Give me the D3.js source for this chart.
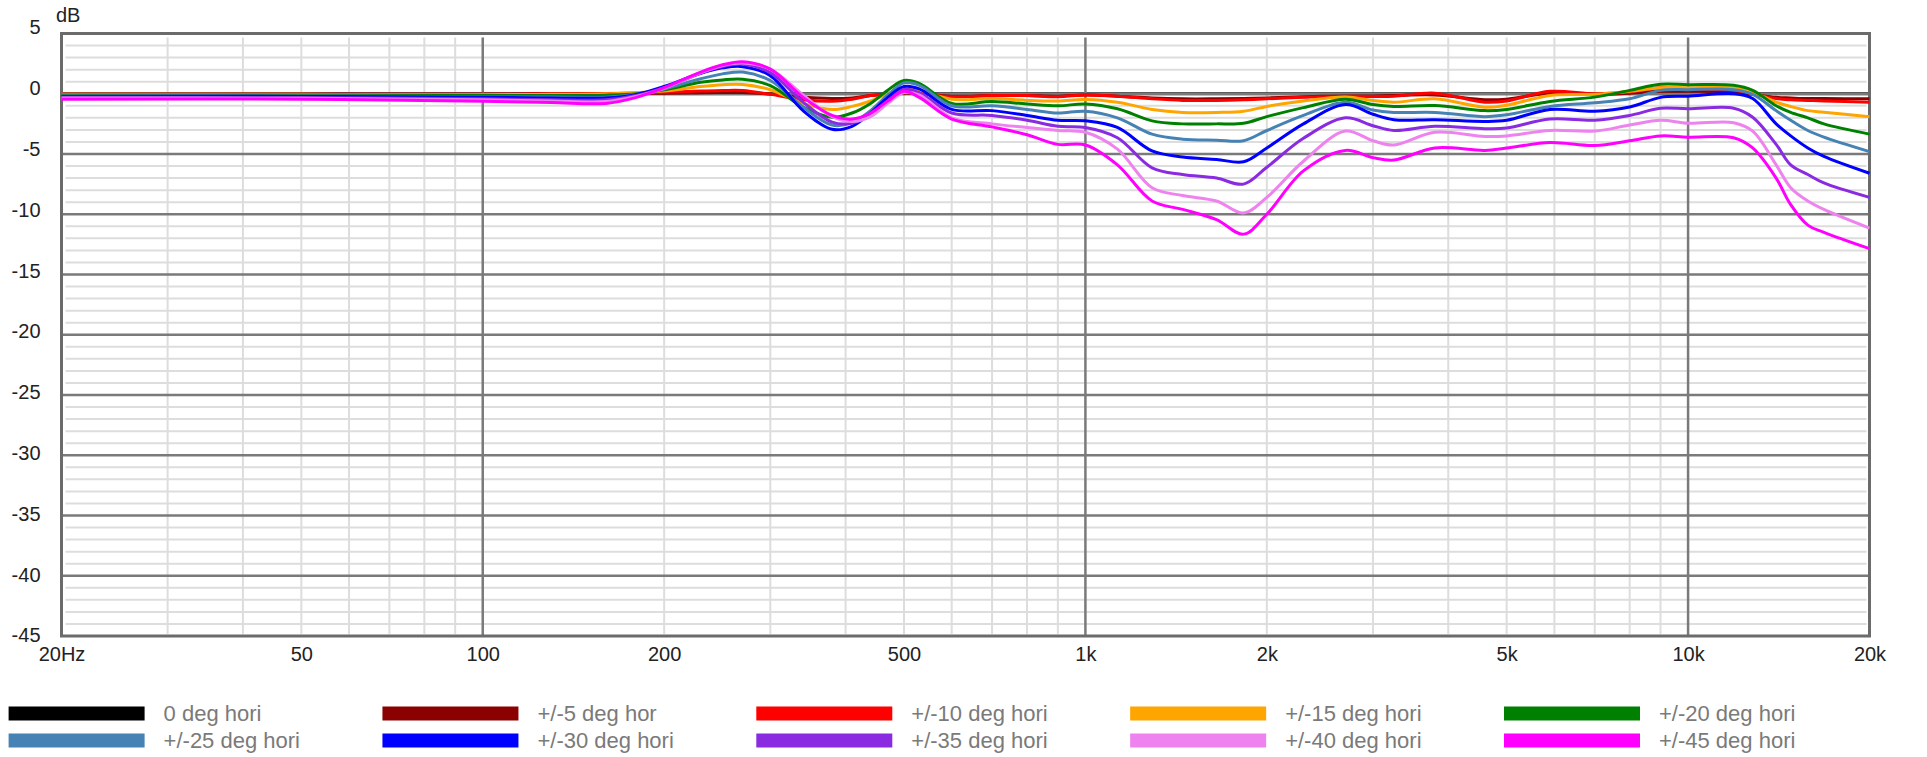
<!DOCTYPE html>
<html>
<head>
<meta charset="utf-8">
<script src="https://cdn.jsdelivr.net/npm/d3@7"></script>
<style>
  html, body { margin: 0; padding: 0; background: #fff; }
  svg { display: block; font-family: "Liberation Sans", Arial, Helvetica, sans-serif; }
</style>
</head>
<body>
<svg id="chart" width="1927" height="757"></svg>
<script>
// Frequency points (Hz) at which each off-axis response is sampled
const freqs = [20, 50, 100, 130, 160, 180, 200, 230, 250, 270, 300, 340, 380, 410, 440, 470, 500, 530, 600, 700,
  800, 900, 1000, 1130, 1290, 1450, 1650, 1830, 2000, 2300, 2700, 3000, 3250, 3800, 4600, 5000, 5900, 7000, 8000, 9000,
  10000, 11900, 12800, 14000, 14800, 15800, 16800, 20000];

// Horizontal off-axis responses, relative level in dB
const deg0 = [0, 0, 0, 0, 0, 0, 0, 0, 0, 0, 0, 0, 0, 0, 0, 0, 0, 0, 0, 0,
  0, 0, 0, 0, 0, 0, 0, 0, 0, 0, 0, 0, 0, 0, 0, 0, 0, 0, 0, 0,
  0, 0, 0, 0, 0, 0, 0, 0];
const deg5 = [-0.05, -0.05, -0.05, -0.02, 0, 0.02, 0.05, 0.08, 0.1, 0.1, -0.02, -0.3, -0.4, -0.35, -0.15, -0.05, 0.05, 0.02, -0.2, -0.15,
  -0.15, -0.2, -0.1, -0.2, -0.35, -0.42, -0.42, -0.4, -0.35, -0.25, -0.18, -0.18, -0.15, -0.1, -0.5, -0.45, 0.05, -0.05, 0.05, 0.2,
  0.2, 0.15, -0.05, -0.3, -0.35, -0.4, -0.4, -0.42];
const deg10 = [-0.05, -0.05, -0.05, 0, 0.02, 0.05, 0.12, 0.22, 0.27, 0.27, -0.05, -0.5, -0.62, -0.45, -0.15, 0, 0.1, 0.05, -0.25, -0.15,
  -0.15, -0.25, -0.1, -0.2, -0.42, -0.55, -0.55, -0.5, -0.42, -0.3, -0.22, -0.22, -0.2, 0.05, -0.7, -0.6, 0.2, 0, 0.14, 0.5,
  0.4, 0.3, 0, -0.4, -0.5, -0.55, -0.6, -0.7];
const deg15 = [-0.05, -0.05, -0.08, -0.05, 0, 0.1, 0.22, 0.6, 0.75, 0.77, 0.33, -0.8, -1.31, -1.05, -0.6, 0, 0.45, 0.3, -0.45, -0.4,
  -0.55, -0.6, -0.47, -0.7, -1.3, -1.55, -1.55, -1.45, -1.05, -0.6, -0.28, -0.56, -0.7, -0.42, -1.12, -0.95, -0.14, -0.05, 0.2, 0.5,
  0.5, 0.5, 0.14, -0.7, -1.06, -1.4, -1.54, -1.9];
const deg20 = [-0.1, -0.1, -0.15, -0.15, -0.12, 0, 0.33, 0.95, 1.15, 1.2, 0.68, -1.1, -1.95, -1.6, -0.8, 0.3, 1.1, 0.85, -0.8, -0.65,
  -0.85, -1.0, -0.85, -1.25, -2.25, -2.5, -2.5, -2.45, -1.9, -1.15, -0.45, -0.9, -1.05, -0.98, -1.4, -1.3, -0.64, -0.28, 0.28, 0.78,
  0.75, 0.7, 0.28, -1.0, -1.55, -2.0, -2.5, -3.35];
const deg25 = [-0.18, -0.18, -0.25, -0.28, -0.28, -0.05, 0.4, 1.25, 1.65, 1.8, 1.1, -1.1, -2.6, -2.4, -1.4, -0.1, 0.9, 0.7, -1.0, -1.0,
  -1.3, -1.6, -1.45, -2.0, -3.35, -3.77, -3.85, -3.9, -3.05, -1.8, -0.7, -1.35, -1.55, -1.55, -1.9, -1.75, -1.05, -0.75, -0.42, 0.28,
  0.34, 0.34, -0.05, -1.4, -2.2, -3.05, -3.6, -4.8];
const deg30 = [-0.22, -0.22, -0.3, -0.35, -0.35, -0.05, 0.6, 1.7, 2.15, 2.25, 1.5, -1.4, -2.95, -2.7, -1.6, -0.3, 0.6, 0.4, -1.3, -1.4,
  -1.8, -2.2, -2.25, -2.8, -4.75, -5.25, -5.45, -5.65, -4.5, -2.5, -0.9, -1.7, -2.15, -2.15, -2.3, -2.2, -1.3, -1.45, -1.1, -0.3,
  -0.2, 0, -0.4, -2.5, -3.5, -4.5, -5.2, -6.6];
const deg35 = [-0.3, -0.32, -0.42, -0.5, -0.5, -0.15, 0.5, 1.7, 2.25, 2.45, 1.75, -0.7, -2.35, -2.45, -1.75, -0.6, 0.35, 0.1, -1.6, -1.8,
  -2.2, -2.7, -2.8, -3.65, -6.15, -6.7, -7.0, -7.5, -6.1, -3.7, -2.0, -2.65, -3.05, -2.7, -2.9, -2.85, -2.1, -2.2, -1.8, -1.2,
  -1.25, -1.2, -1.95, -4.2, -5.9, -6.7, -7.4, -8.6];
const deg40 = [-0.35, -0.38, -0.5, -0.6, -0.65, -0.2, 0.45, 1.75, 2.35, 2.55, 2.05, -0.1, -1.9, -2.3, -1.9, -0.8, 0.1, -0.1, -2.0, -2.5,
  -2.8, -3.05, -3.2, -4.6, -7.8, -8.45, -8.9, -9.9, -8.6, -5.6, -3.1, -3.9, -4.25, -3.2, -3.55, -3.5, -3.05, -3.1, -2.6, -2.2,
  -2.45, -2.4, -3.1, -5.9, -7.8, -8.9, -9.6, -11.15];
const deg45 = [-0.45, -0.45, -0.62, -0.72, -0.8, -0.3, 0.5, 1.8, 2.4, 2.65, 2.05, -0.3, -1.8, -2.1, -1.6, -0.6, 0.2, -0.3, -2.1, -2.75,
  -3.4, -4.2, -4.25, -5.9, -8.9, -9.6, -10.45, -11.65, -10.0, -6.4, -4.7, -5.3, -5.5, -4.5, -4.7, -4.5, -4.05, -4.3, -3.9, -3.5,
  -3.6, -3.65, -4.5, -7.0, -9.2, -10.9, -11.5, -12.85];

const seriesLabels = ["0 deg hori", "+/-5 deg hor", "+/-10 deg hori", "+/-15 deg hori", "+/-20 deg hori",
  "+/-25 deg hori", "+/-30 deg hori", "+/-35 deg hori", "+/-40 deg hori", "+/-45 deg hori"];
const seriesColors = ["black", "darkred", "red", "orange", "green",
  "steelblue", "blue", "blueviolet", "violet", "magenta"];
const seriesValues = [deg0, deg5, deg10, deg15, deg20, deg25, deg30, deg35, deg40, deg45];

// Axis ticks
const xTickValues = [20, 50, 100, 200, 500, 1000, 2000, 5000, 10000, 20000];
const xTickLabels = ["20Hz", "50", "100", "200", "500", "1k", "2k", "5k", "10k", "20k"];
const yTickValues = [5, 0, -5, -10, -15, -20, -25, -30, -35, -40, -45];
const xMajorGrid = [100, 1000, 10000];
const xMinorGrid = [30, 40, 50, 60, 70, 80, 90, 200, 300, 400, 500, 600, 700, 800, 900,
  2000, 3000, 4000, 5000, 6000, 7000, 8000, 9000];

const svg = d3.select("#chart");

const x = d3.scaleLog().domain([20, 20000]).range([61.5, 1869.5]);
const y = d3.scaleLinear().domain([-45, 5]).range([636, 33.5]);
// dB labels sit on a slightly wider pitch than the grid they annotate
const yLabel = d3.scaleLinear().domain([-45, 5]).range([635.5, 27.5]);

const [xl, xr] = x.range();
const [yb, yt] = y.range();

// Minor grid
const yMinor = d3.range(-44, 5).filter(v => v % 5 !== 0);
const grid = svg.append("g").attr("class", "grid");
grid.selectAll("line.hminor").data(yMinor).join("line")
  .attr("x1", xl + 4).attr("x2", xr - 3)
  .attr("y1", d => y(d)).attr("y2", d => y(d))
  .attr("stroke", "#dddddd").attr("stroke-width", 2);
grid.selectAll("line.vminor").data(xMinorGrid).join("line")
  .attr("x1", d => x(d)).attr("x2", d => x(d))
  .attr("y1", yt + 4).attr("y2", yb - 2)
  .attr("stroke", "#dddddd").attr("stroke-width", 2);

const line = d3.line()
  .x((d, i) => x(freqs[i]))
  .y(d => y(d))
  .curve(d3.curveCatmullRom.alpha(0.5));

// The on-axis reference lies on the 0 dB line, underneath the major grid
svg.append("path")
  .datum(seriesValues[0])
  .attr("d", line)
  .attr("fill", "none")
  .attr("stroke", seriesColors[0])
  .attr("stroke-width", 3);

// Major grid
const yMajor = [0, -5, -10, -15, -20, -25, -30, -35, -40];
const major = svg.append("g").attr("class", "grid-major");
major.selectAll("line.hmajor").data(yMajor).join("line")
  .attr("x1", xl).attr("x2", xr)
  .attr("y1", d => y(d)).attr("y2", d => y(d))
  .attr("stroke", "#7a7a7a").attr("stroke-width", 2.5);
major.selectAll("line.vmajor").data(xMajorGrid).join("line")
  .attr("x1", d => x(d)).attr("x2", d => x(d))
  .attr("y1", yt + 4).attr("y2", yb)
  .attr("stroke", "#7a7a7a").attr("stroke-width", 2.5);

// Plot frame
svg.append("rect")
  .attr("x", xl).attr("y", yt)
  .attr("width", xr - xl).attr("height", yb - yt)
  .attr("fill", "none").attr("stroke", "#6b6b6b").attr("stroke-width", 3);

// Off-axis curves
svg.append("g").attr("class", "curves")
  .selectAll("path")
  .data(seriesValues.slice(1).map((v, i) => ({ values: v, color: seriesColors[i + 1] })))
  .join("path")
  .attr("d", d => line(d.values))
  .attr("fill", "none")
  .attr("stroke", d => d.color)
  .attr("stroke-width", 3)
  .attr("stroke-linejoin", "round");

// Axes
const xAxis = svg.append("g")
  .attr("transform", `translate(0,${yb})`)
  .call(d3.axisBottom(x).tickValues(xTickValues)
    .tickFormat((d, i) => xTickLabels[i]).tickSize(0).tickPadding(11));
xAxis.select(".domain").remove();
xAxis.selectAll("text").attr("font-size", 20).attr("fill", "#222")
  .attr("font-family", "'Liberation Sans', Arial, sans-serif");

const yAxis = svg.append("g")
  .attr("transform", `translate(${xl},0)`)
  .call(d3.axisLeft(yLabel).tickValues(yTickValues)
    .tickFormat(d => String(d)).tickSize(0).tickPadding(21));
yAxis.select(".domain").remove();
yAxis.selectAll("text").attr("font-size", 20).attr("fill", "#222")
  .attr("font-family", "'Liberation Sans', Arial, sans-serif");

svg.append("text")
  .attr("x", 56).attr("y", 22)
  .attr("font-size", 20).attr("fill", "#222")
  .text("dB");

// Legend: two rows of five
const legend = svg.append("g").attr("class", "legend");
const items = legend.selectAll("g").data(seriesLabels).join("g")
  .attr("transform", (d, i) => `translate(${8.6 + (i % 5) * 373.85},${713.5 + Math.floor(i / 5) * 27})`);
items.append("rect")
  .attr("x", 0).attr("y", -7)
  .attr("width", 136).attr("height", 14)
  .attr("fill", (d, i) => seriesColors[i]);
items.append("text")
  .attr("x", 155).attr("y", 0).attr("dy", "0.36em")
  .attr("font-size", 22).attr("fill", "#7a7a7a")
  .text(d => d);
</script>
</body>
</html>
